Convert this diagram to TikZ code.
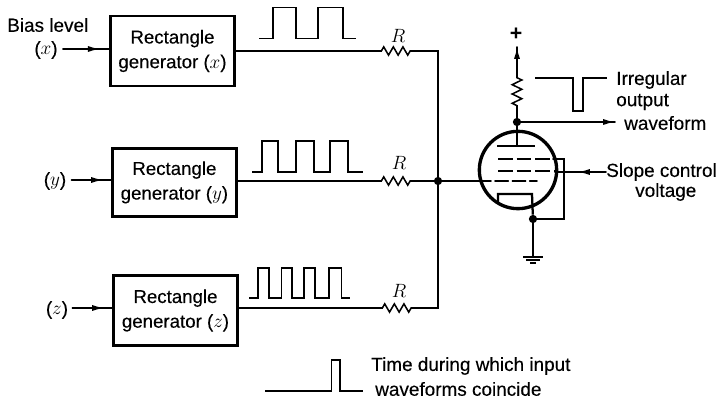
\documentclass[tikz,border=0pt]{standalone}
\usepackage{fontspec}
\setmainfont{Liberation Sans}
\newfontfamily\heavy{Liberation Sans}[FakeBold=0.25]
\usetikzlibrary{arrows.meta,decorations.pathmorphing,decorations.markings,calc}
\tikzset{
  wire/.style={line width=1.15pt,line cap=round,line join=miter},
  thin wave/.style={line width=1.15pt,line join=miter},
  genbox/.style={draw,line width=2.1pt,align=center,inner sep=0pt,font=\heavy\fontsize{14}{18.5}\selectfont},
  lbl/.style={inner sep=0pt,font=\heavy\fontsize{14.2}{15}\selectfont},
  rlbl/.style={inner sep=0pt,font=\fontsize{14}{16}\selectfont},
  res/.style={wire,decorate,decoration={zigzag,segment length=7.2pt,amplitude=3.1pt,pre length=1pt,post length=1pt}},
  resv/.style={wire,decorate,decoration={zigzag,segment length=7pt,amplitude=3.6pt,pre length=1pt,post length=1pt}},
  dot/.style={circle,fill,inner sep=0pt,minimum size=6.2pt},
  midarrow/.style={postaction={decorate},decoration={markings,mark=at position #1 with {\arrow{Latex[length=9pt,width=4.6pt]}}}},
  griddash/.style={line width=1.15pt,dash pattern=on 11pt off 3pt},
}
\begin{document}
\begin{tikzpicture}[x=0.75pt,y=-0.75pt]
\useasboundingbox (0,0) rectangle (719,399);
% generators
\node[genbox,minimum width=93pt,minimum height=52.5pt] (g1) at (172.5,51) {Rectangle\\generator ($x$)};
\node[genbox,minimum width=93pt,minimum height=51.4pt] (g2) at (174.4,182.4) {Rectangle\\generator ($y$)};
\node[genbox,minimum width=93pt,minimum height=52pt] (g3) at (175.5,310.5) {Rectangle\\generator ($z$)};
% inputs
\node[lbl,anchor=west] (bias) at (7,25) {Bias level};
\node[lbl] (ix) at (46,50) {($x$)};
\node[lbl] (iy) at (55,181) {($y$)};
\node[lbl] (iz) at (57,310) {($z$)};
\draw[wire,midarrow=0.8] (ix.east) ++(5,-1) coordinate (ix0) -- (ix0 -| g1.west);
\draw[wire,midarrow=0.8] (iy.east) ++(5,-1) coordinate (iy0) -- (iy0 -| g2.west);
\draw[wire,midarrow=0.8] (iz.east) ++(4,-2) coordinate (iz0) -- (iz0 -| g3.west);
% resistors and bus
\coordinate (r1a) at (380,51); \coordinate (r1b) at (412,51);
\coordinate (r2a) at (380,181); \coordinate (r2b) at (412,181);
\coordinate (r3a) at (381,308); \coordinate (r3b) at (413,308);
\node[dot] (j) at (438,181) {};
\draw[wire] (r1a -| g1.east) -- (r1a);
\draw[res] (r1a) -- (r1b);
\draw[wire] (r2a -| g2.east) -- (r2a);
\draw[res] (r2a) -- (r2b);
\draw[wire] (r3a -| g3.east) -- (r3a);
\draw[res] (r3a) -- (r3b);
\draw[wire] (r1b) -| (j.center) |- (r3b);
\draw[wire] (r2b) -- (j);
\node[rlbl] (R1) at (398,36) {$R$};
\node[rlbl] (R2) at (399,163) {$R$};
\node[rlbl] (R3) at (399,291) {$R$};
% waveforms
\draw[thin wave] (259,38.5) -- (273,38.5) -- (273,7.5) -- (296,7.5) -- (296,38.5) -- (318,38.5) -- (318,7.5) -- (343,7.5) -- (343,38.5) -- (356,38.5);
\draw[thin wave] (252,172) -- (262,172) -- (262,141) -- (278,141) -- (278,172) -- (296,172) -- (296,141) -- (314,141) -- (314,172) -- (330,172) -- (330,141) -- (348,141) -- (348,172) -- (363,172);
\draw[thin wave] (249,298) -- (258,298) -- (258,268) -- (269,268) -- (269,298) -- (281.5,298) -- (281.5,268) -- (292,268) -- (292,298) -- (304,298) -- (304,268) -- (315,268) -- (315,298) -- (329,298) -- (329,268) -- (341.5,268) -- (341.5,298) -- (350,298);
\draw[thin wave] (265,391) -- (331.5,391) -- (331.5,360) -- (340,360) -- (340,391) -- (363,391);
\node[lbl,anchor=west] (tc1) at (371,366) {Time during which input};
\node[lbl,anchor=west] (tc2) at (375,389) {waveforms coincide};
\draw[thin wave] (535,78) -- (573,78) -- (573,111) -- (583,111) -- (583,78) -- (607,78);
% tube
\node[circle,draw,line width=2.5pt,minimum size=58pt,inner sep=0pt] (tube) at (518,170) {};
\coordinate (plate) at (517,146);
\node[dot] (ja) at (517,122) {};
\node[dot] (jc) at (533,219) {};
\draw[line width=1.7pt] (497,146) -- (535,146);
\draw[wire] (ja) -- (plate);
\draw[griddash] (498,159) -- (553,159);
\draw[griddash] (498,171) -- (555,171);
\draw[wire,dash pattern=on 10pt off 3pt] (tube.west |- j) -- (537,181);
\draw[wire] (j) -- (tube.west |- j);
\draw[wire] (553,159) -- (564,159) -- (564,219) -- (jc);
\draw[line width=1.7pt] (498,203) -- (498,194) -- (532,194) -- (jc);
% plate supply
\coordinate (ra) at (517,107); \coordinate (rb) at (517,75);
\coordinate (vcc) at (517,47);
\draw[wire] (ja) -- (ra);
\draw[resv] (ra) -- (rb);
\draw[wire,midarrow=1] (rb) -- (vcc);
\node[font=\bfseries\fontsize{16}{16}\selectfont,inner sep=0pt] (plus) at (516,34) {+};
% output
\node[lbl,anchor=west] (o1) at (616,80) {Irregular};
\node[lbl,anchor=west] (o2) at (616,102) {output};
\node[lbl,anchor=west] (o3) at (624,123) {waveform};
\coordinate (oend) at (615,122);
\draw[wire,midarrow=1] (ja) -- (oend);
% slope control
\node[lbl,anchor=west] (s1) at (606,172) {Slope control};
\node[lbl,anchor=west] (s2) at (635,192) {voltage};
\draw[wire,midarrow=0.55] (s1.west) -- (555,172);
% ground
\coordinate (g) at (533,257);
\draw[wire] (jc) -- (g);
\draw[line width=1.6pt] (523,257) -- (543,257);
\draw[line width=1.6pt] (526,260) -- (540,260);
\draw[line width=1.6pt] (530,263) -- (536,263);
\end{tikzpicture}
\end{document}
